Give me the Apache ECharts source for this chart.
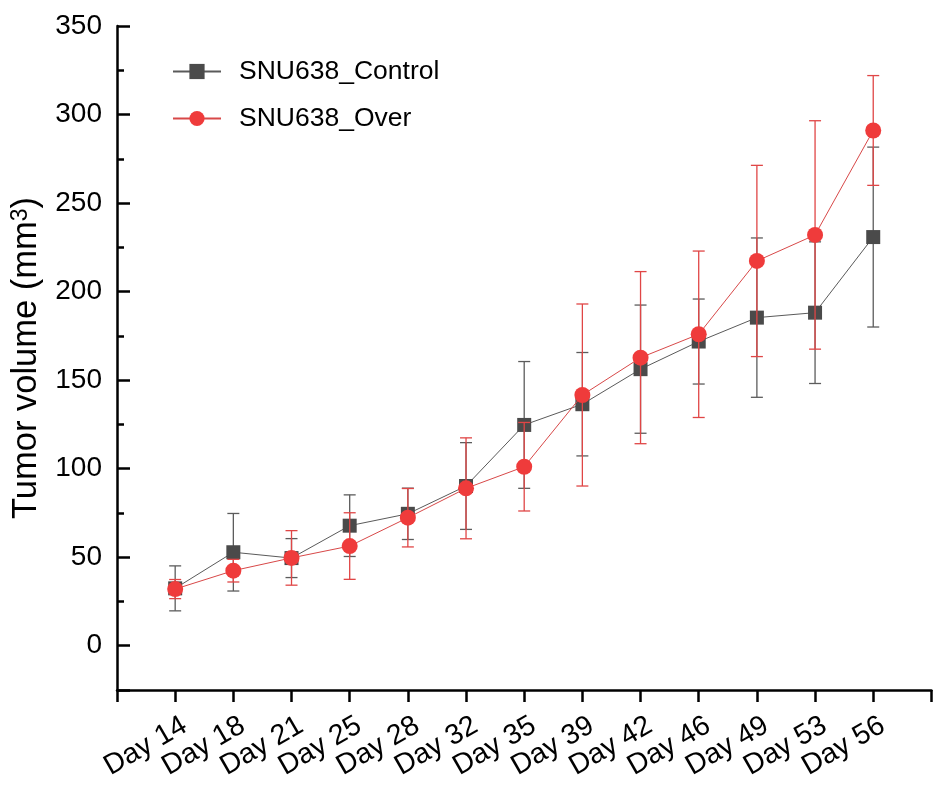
<!DOCTYPE html>
<html style="height: 100%; width: 100%;">
<head>
    <meta charset="utf-8">
    <title>SNU638 tumor volume</title>
    <script src="https://cdn.jsdelivr.net/npm/echarts@6/dist/echarts.min.js"></script>
    <style>
        body, html {
            margin: 0;
            padding: 0;
            width: 100%;
            height: 100%;
            background: #fff;
        }
        #main {
            width: 934px;
            height: 787px;
        }
    </style>
</head>
<body>
<div id="main"></div>
<script type="text/javascript">
    // values
    var dayLabels = ['Day 14', 'Day 18', 'Day 21', 'Day 25', 'Day 28', 'Day 32', 'Day 35',
                     'Day 39', 'Day 42', 'Day 46', 'Day 49', 'Day 53', 'Day 56'];
    var controlMean = [32.4, 52.8, 49.5, 67.8, 74.5, 90.2, 124.7, 136.4, 156.2, 171.8, 185.3, 188.1, 230.8];
    var controlErr  = [12.7, 21.9, 11.0, 17.4, 14.5, 24.5, 35.8, 29.2, 36.2, 24.0, 45.0, 40.0, 50.8];
    var overMean    = [32.0, 42.4, 49.6, 56.3, 72.3, 88.9, 101.1, 141.6, 162.7, 175.9, 217.3, 232.0, 291.0];
    var overErr     = [5.4, 6.4, 15.4, 18.8, 16.5, 28.5, 25.0, 51.4, 48.6, 47.0, 54.0, 64.5, 31.0];

    var FONT = 'Liberation Sans, Arial, sans-serif';
    var GREY = '#4a4a4a';
    var RED = '#ef3b3b';

    function points(vals) {
        return vals.map(function (v, i) { return [i + 1, v]; });
    }
    function bars(vals, errs) {
        return vals.map(function (v, i) { return [i + 1, v - errs[i], v + errs[i]]; });
    }
    function errorBar(color) {
        return function (params, api) {
            var x = api.value(0);
            var lo = api.coord([x, api.value(1)]);
            var hi = api.coord([x, api.value(2)]);
            var w = 6;
            var style = { stroke: color, lineWidth: 1.3, fill: null };
            return {
                type: 'group',
                children: [
                    { type: 'line', shape: { x1: lo[0], y1: lo[1], x2: hi[0], y2: hi[1] }, style: style },
                    { type: 'line', shape: { x1: hi[0] - w, y1: hi[1], x2: hi[0] + w, y2: hi[1] }, style: style },
                    { type: 'line', shape: { x1: lo[0] - w, y1: lo[1], x2: lo[0] + w, y2: lo[1] }, style: style }
                ]
            };
        };
    }

    var chart = echarts.init(document.getElementById('main'));

    var option = {
        animation: false,
        backgroundColor: '#fff',
        textStyle: { fontFamily: FONT },
        grid: { left: 117, right: -3, top: 26, bottom: 97 },
        legend: {
            orient: 'vertical',
            left: 172,
            top: 58,
            padding: 0,
            itemGap: 20,
            itemWidth: 48,
            itemHeight: 19,
            data: ['SNU638_Control', 'SNU638_Over'],
            textStyle: { fontFamily: FONT, fontSize: 26.5, color: '#000', padding: [0, 0, 0, 13] }
        },
        xAxis: {
            type: 'value',
            min: 0,
            max: 14,
            interval: 1,
            splitLine: { show: false },
            axisLine: { onZero: false, lineStyle: { color: '#000', width: 2.5 } },
            axisTick: { inside: false, length: 12, lineStyle: { color: '#000', width: 2.5 } },
            axisLabel: {
                rotate: 30,
                margin: 39,
                fontSize: 28.5,
                fontFamily: FONT,
                color: '#000',
                padding: [0, -11, 0, 0],
                formatter: function (v) { return dayLabels[v - 1] || ''; }
            }
        },
        yAxis: [{
            type: 'value',
            min: -25,
            max: 350,
            splitNumber: 7,
            showMinLabel: false,
            name: 'Tumor volume (mm{sup|3})',
            nameLocation: 'middle',
            nameGap: 63,
            nameTextStyle: {
                fontFamily: FONT,
                fontSize: 34.5,
                color: '#000',
                rich: {
                    sup: { fontFamily: FONT, fontSize: 23, color: '#000', verticalAlign: 'top' }
                }
            },
            splitLine: { show: false },
            axisLine: { show: true, onZero: false, lineStyle: { color: '#000', width: 2.5 } },
            axisTick: { show: true, inside: true, length: 13, lineStyle: { color: '#000', width: 2.5 } },
            axisLabel: {
                margin: 15,
                fontSize: 28,
                fontFamily: FONT,
                color: '#000',
                formatter: function (v) { return v < 0 ? '' : String(v); }
            }
        }, {
            // minor ticks every 25
            type: 'value',
            position: 'left',
            min: -25,
            max: 350,
            interval: 25,
            splitLine: { show: false },
            axisLine: { show: false, onZero: false },
            axisLabel: { show: false },
            axisTick: { show: true, inside: true, length: 7, lineStyle: { color: '#000', width: 2.5 } }
        }],
        series: [
            {
                name: 'Control SD',
                type: 'custom',
                renderItem: errorBar('#5c5c5c'),
                data: bars(controlMean, controlErr),
                z: 1
            },
            {
                name: 'SNU638_Control',
                type: 'line',
                data: points(controlMean),
                symbol: 'rect',
                symbolSize: 14,
                color: GREY,
                lineStyle: { color: '#5a5a5a', width: 1 },
                itemStyle: { color: GREY },
                z: 2
            },
            {
                name: 'Over SD',
                type: 'custom',
                renderItem: errorBar('#e04646'),
                data: bars(overMean, overErr),
                z: 3
            },
            {
                name: 'SNU638_Over',
                type: 'line',
                data: points(overMean),
                symbol: 'circle',
                symbolSize: 16,
                color: RED,
                lineStyle: { color: '#d84848', width: 1 },
                itemStyle: { color: RED },
                z: 4
            }
        ]
    };

    chart.setOption(option);
</script>
</body>
</html>
